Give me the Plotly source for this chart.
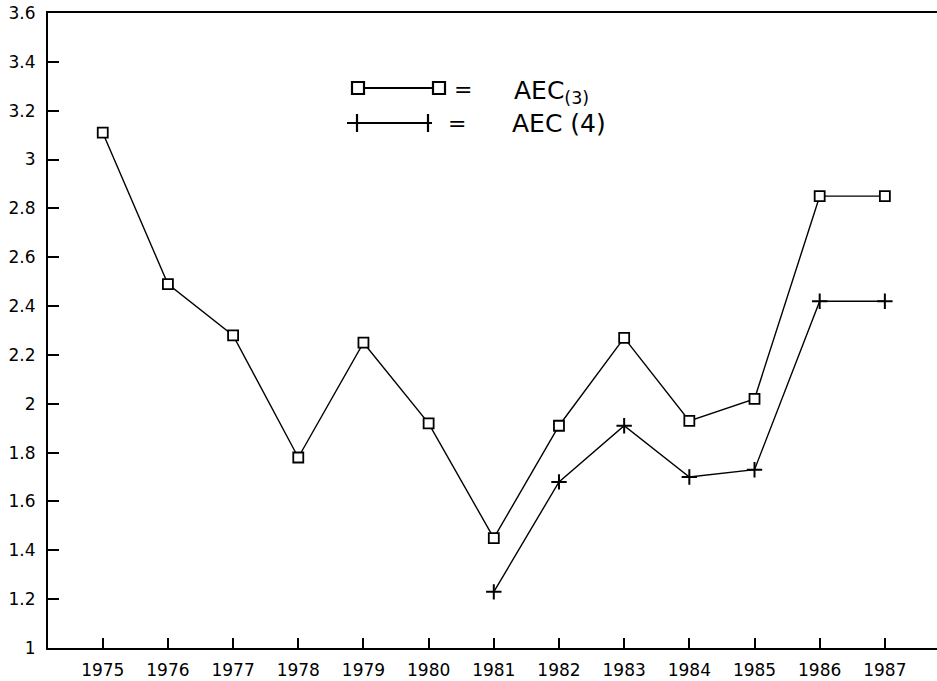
import plotly.graph_objects as go

years = [1975, 1976, 1977, 1978, 1979, 1980, 1981, 1982, 1983, 1984, 1985, 1986, 1987]
aec3 = [3.11, 2.49, 2.28, 1.78, 2.25, 1.92, 1.45, 1.91, 2.27, 1.93, 2.02, 2.85, 2.85]

years4 = [1981, 1982, 1983, 1984, 1985, 1986, 1987]
aec4 = [1.23, 1.68, 1.91, 1.70, 1.73, 2.42, 2.42]

y_ticks = [1, 1.2, 1.4, 1.6, 1.8, 2, 2.2, 2.4, 2.6, 2.8, 3, 3.2, 3.4, 3.6]
y_labels = ["1", "1.2", "1.4", "1.6", "1.8", "2", "2.2", "2.4", "2.6", "2.8", "3", "3.2", "3.4", "3.6"]

font = "DejaVu Sans"

fig = go.Figure()
fig.add_trace(go.Scatter(
    x=years, y=aec3, mode="lines+markers", name="AEC (3)",
    line=dict(color="black", width=1.4),
    marker=dict(symbol="square", size=10, color="white", line=dict(color="black", width=1.8)),
))
fig.add_trace(go.Scatter(
    x=years4, y=aec4, mode="lines+markers", name="AEC (4)",
    line=dict(color="black", width=1.4),
    marker=dict(symbol="cross-thin", size=11, line=dict(color="black", width=2)),
))

# hand drawn style legend key in the upper middle (pixel -> paper helpers)
def px_x(p):
    return (p - 48) / 889

def px_y(p):
    return 1 - (p - 13) / 635

shapes = []
# row 1: square ---- square
shapes.append(dict(type="line", xref="paper", yref="paper", x0=px_x(358), x1=px_x(439),
                   y0=px_y(88), y1=px_y(88), line=dict(color="black", width=2)))
for cx in (358, 439):
    shapes.append(dict(type="rect", xref="paper", yref="paper", x0=px_x(cx - 6), x1=px_x(cx + 6),
                       y0=px_y(82), y1=px_y(94), fillcolor="white", line=dict(color="black", width=2.2)))
# row 2: cross ---- cross
shapes.append(dict(type="line", xref="paper", yref="paper", x0=px_x(347), x1=px_x(432),
                   y0=px_y(123), y1=px_y(123), line=dict(color="black", width=2.2)))
for cx in (357, 428):
    shapes.append(dict(type="line", xref="paper", yref="paper", x0=px_x(cx), x1=px_x(cx),
                       y0=px_y(114), y1=px_y(132), line=dict(color="black", width=2.2)))

annotations = [
    dict(text="=", x=px_x(463), y=px_y(89), xref="paper", yref="paper", showarrow=False,
         xanchor="center", yanchor="middle", font=dict(family=font, size=22, color="black")),
    dict(text="AEC<sub>(3)</sub>", x=px_x(512), y=px_y(92), xref="paper", yref="paper", showarrow=False,
         xanchor="left", yanchor="middle", font=dict(family=font, size=25, color="black")),
    dict(text="=", x=px_x(457), y=px_y(124), xref="paper", yref="paper", showarrow=False,
         xanchor="center", yanchor="middle", font=dict(family=font, size=22, color="black")),
    dict(text="AEC (4)", x=px_x(510), y=px_y(124), xref="paper", yref="paper", showarrow=False,
         xanchor="left", yanchor="middle", font=dict(family=font, size=25, color="black")),
]

fig.update_layout(
    width=937, height=681,
    margin=dict(l=48, r=0, t=13, b=33),
    plot_bgcolor="white", paper_bgcolor="white",
    showlegend=False,
    font=dict(family=font, size=17, color="black"),
    shapes=shapes,
    annotations=annotations,
)
fig.update_xaxes(
    range=[1974.16, 1987.8], tickvals=years, ticktext=[str(y) for y in years],
    showgrid=False, zeroline=False, showline=True, linecolor="black", linewidth=2,
    mirror=True, ticks="inside", ticklen=10, tickwidth=1.5, tickcolor="black",
    ticklabelstandoff=6, automargin=False,
)
fig.update_yaxes(
    range=[1, 3.6], tickvals=y_ticks, ticktext=y_labels,
    showgrid=False, zeroline=False, showline=True, linecolor="black", linewidth=2,
    ticks="inside", ticklen=11, tickwidth=1.5, tickcolor="black", ticklabelstandoff=7,
    automargin=False,
)

# page body has a default 8px margin; drop it so the figure fills the window
fig.write_html("out.html", config={"displayModeBar": False},
               post_script="document.body.style.margin='0';")
